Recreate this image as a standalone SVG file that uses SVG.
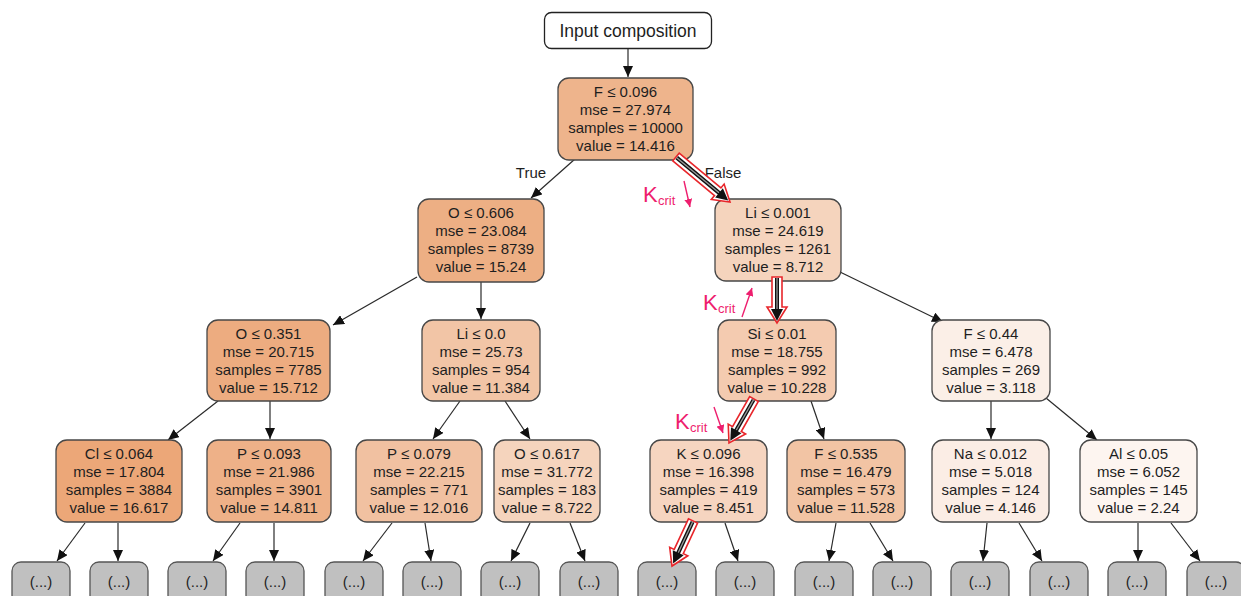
<svg xmlns="http://www.w3.org/2000/svg" width="1241" height="596" viewBox="0 0 1241 596">
<defs>
<style>
.n{stroke:#474747;stroke-width:1.3}
.t{font-family:"Liberation Sans",Arial,sans-serif;font-size:15px;fill:#1e1e1e;text-anchor:middle}
.leaf{fill:#c0c0c0;stroke:#555;stroke-width:1.3}
.e{stroke:#2a2a2a;stroke-width:1.2;fill:none;marker-end:url(#ah)}
.k{font-family:"Liberation Sans",Arial,sans-serif;fill:#ee1e6e}
.pk{stroke:#ee1e6e;stroke-width:1.4;fill:none;marker-end:url(#ahp)}
.ho{fill:#fff;stroke:#e8262b;stroke-width:1.6;stroke-linejoin:miter}
</style>
<marker id="ah" markerWidth="12" markerHeight="10" refX="11" refY="5" orient="auto" markerUnits="userSpaceOnUse"><path d="M0,0 L11,5 L0,10 z" fill="#111"/></marker>
<marker id="ahp" markerWidth="9" markerHeight="8" refX="8" refY="4" orient="auto" markerUnits="userSpaceOnUse"><path d="M0,0 L8,4 L0,8 z" fill="#ee1e6e"/></marker>
</defs>
<rect width="1241" height="596" fill="#fff"/>

<g id="connectors">
<path class="e" d="M628,49 L628,77"/>
<path class="e" d="M575,159 L531,198"/>
<path class="e" d="M417,277 L333,325"/>
<path class="e" d="M481,282 L481,319"/>
<path class="e" d="M840,272 L943,322"/>
<path class="e" d="M218,401 L168,440"/>
<path class="e" d="M270,401 L270,439"/>
<path class="e" d="M460,401 L433,439"/>
<path class="e" d="M505,401 L530,439"/>
<path class="e" d="M811,401 L824,439"/>
<path class="e" d="M991,401 L991,439"/>
<path class="e" d="M1046,398 L1097,440"/>
<path class="e" d="M85,523 L57,561"/>
<path class="e" d="M118,523 L118,561"/>
<path class="e" d="M240,523 L213,561"/>
<path class="e" d="M274,523 L274,561"/>
<path class="e" d="M392,523 L363,561"/>
<path class="e" d="M425,523 L431,561"/>
<path class="e" d="M530,523 L511,561"/>
<path class="e" d="M570,523 L585,561"/>
<path class="e" d="M725,523 L738,561"/>
<path class="e" d="M836,523 L829,561"/>
<path class="e" d="M870,523 L893,561"/>
<path class="e" d="M987,523 L983,561"/>
<path class="e" d="M1019,523 L1042,561"/>
<path class="e" d="M1138,523 L1138,561"/>
<path class="e" d="M1171,523 L1200,561"/>
</g>

<g id="input"><rect x="544.5" y="12.5" width="167" height="36" rx="7" fill="#fff" stroke="#222" stroke-width="1.3"/><text x="628" y="37" class="t" style="font-size:17.5px">Input composition</text></g>

<g id="n0"><rect class="n" x="558" y="78" width="135" height="82" rx="11" fill="#eeb48c"/><text class="t" x="625.5" y="97">F ≤ 0.096</text><text class="t" x="625.5" y="115">mse = 27.974</text><text class="t" x="625.5" y="133">samples = 10000</text><text class="t" x="625.5" y="151">value = 14.416</text></g>
<g id="n1"><rect class="n" x="418" y="199" width="126" height="83" rx="11" fill="#edaf84"/><text class="t" x="481" y="218">O ≤ 0.606</text><text class="t" x="481" y="236">mse = 23.084</text><text class="t" x="481" y="254">samples = 8739</text><text class="t" x="481" y="272">value = 15.24</text></g>
<g id="n2"><rect class="n" x="715" y="199" width="126" height="82" rx="11" fill="#f5d4bd"/><text class="t" x="778" y="218">Li ≤ 0.001</text><text class="t" x="778" y="236">mse = 24.619</text><text class="t" x="778" y="254">samples = 1261</text><text class="t" x="778" y="272">value = 8.712</text></g>
<g id="n3"><rect class="n" x="207" y="320" width="123" height="81" rx="11" fill="#edac80"/><text class="t" x="268.5" y="339">O ≤ 0.351</text><text class="t" x="268.5" y="357">mse = 20.715</text><text class="t" x="268.5" y="375">samples = 7785</text><text class="t" x="268.5" y="393">value = 15.712</text></g>
<g id="n4"><rect class="n" x="422" y="320" width="118" height="81" rx="11" fill="#f2c5a6"/><text class="t" x="481" y="339">Li ≤ 0.0</text><text class="t" x="481" y="357">mse = 25.73</text><text class="t" x="481" y="375">samples = 954</text><text class="t" x="481" y="393">value = 11.384</text></g>
<g id="n5"><rect class="n" x="718" y="320" width="118" height="81" rx="11" fill="#f4cbb0"/><text class="t" x="777" y="339">Si ≤ 0.01</text><text class="t" x="777" y="357">mse = 18.755</text><text class="t" x="777" y="375">samples = 992</text><text class="t" x="777" y="393">value = 10.228</text></g>
<g id="n6"><rect class="n" x="932" y="320" width="118" height="81" rx="11" fill="#fbefe7"/><text class="t" x="991" y="339">F ≤ 0.44</text><text class="t" x="991" y="357">mse = 6.478</text><text class="t" x="991" y="375">samples = 269</text><text class="t" x="991" y="393">value = 3.118</text></g>
<g id="n7"><rect class="n" x="56" y="440" width="126" height="82" rx="11" fill="#eca778"/><text class="t" x="119" y="459">Cl ≤ 0.064</text><text class="t" x="119" y="477">mse = 17.804</text><text class="t" x="119" y="495">samples = 3884</text><text class="t" x="119" y="513">value = 16.617</text></g>
<g id="n8"><rect class="n" x="207" y="440" width="124" height="82" rx="11" fill="#eeb188"/><text class="t" x="269" y="459">P ≤ 0.093</text><text class="t" x="269" y="477">mse = 21.986</text><text class="t" x="269" y="495">samples = 3901</text><text class="t" x="269" y="513">value = 14.811</text></g>
<g id="n9"><rect class="n" x="356" y="440" width="126" height="82" rx="11" fill="#f1c1a1"/><text class="t" x="419" y="459">P ≤ 0.079</text><text class="t" x="419" y="477">mse = 22.215</text><text class="t" x="419" y="495">samples = 771</text><text class="t" x="419" y="513">value = 12.016</text></g>
<g id="n10"><rect class="n" x="494" y="440" width="106" height="82" rx="11" fill="#f5d4bd"/><text class="t" x="547" y="459">O ≤ 0.617</text><text class="t" x="547" y="477">mse = 31.772</text><text class="t" x="547" y="495">samples = 183</text><text class="t" x="547" y="513">value = 8.722</text></g>
<g id="n11"><rect class="n" x="650" y="440" width="117" height="82" rx="11" fill="#f6d5c0"/><text class="t" x="708.5" y="459">K ≤ 0.096</text><text class="t" x="708.5" y="477">mse = 16.398</text><text class="t" x="708.5" y="495">samples = 419</text><text class="t" x="708.5" y="513">value = 8.451</text></g>
<g id="n12"><rect class="n" x="787" y="440" width="118" height="82" rx="11" fill="#f2c4a4"/><text class="t" x="846" y="459">F ≤ 0.535</text><text class="t" x="846" y="477">mse = 16.479</text><text class="t" x="846" y="495">samples = 573</text><text class="t" x="846" y="513">value = 11.528</text></g>
<g id="n13"><rect class="n" x="932" y="440" width="117" height="82" rx="11" fill="#fbede5"/><text class="t" x="990.5" y="459">Na ≤ 0.012</text><text class="t" x="990.5" y="477">mse = 5.018</text><text class="t" x="990.5" y="495">samples = 124</text><text class="t" x="990.5" y="513">value = 4.146</text></g>
<g id="n14"><rect class="n" x="1080" y="440" width="117" height="82" rx="11" fill="#fdf5f0"/><text class="t" x="1138.5" y="459">Al ≤ 0.05</text><text class="t" x="1138.5" y="477">mse = 6.052</text><text class="t" x="1138.5" y="495">samples = 145</text><text class="t" x="1138.5" y="513">value = 2.24</text></g>

<g id="leaves">
<g id="l1"><rect class="leaf" x="12" y="562" width="58" height="42" rx="9"/><text class="t" x="41" y="587">(...)</text></g>
<g id="l2"><rect class="leaf" x="90" y="562" width="58" height="42" rx="9"/><text class="t" x="119" y="587">(...)</text></g>
<g id="l3"><rect class="leaf" x="168" y="562" width="58" height="42" rx="9"/><text class="t" x="197" y="587">(...)</text></g>
<g id="l4"><rect class="leaf" x="246" y="562" width="58" height="42" rx="9"/><text class="t" x="275" y="587">(...)</text></g>
<g id="l5"><rect class="leaf" x="325" y="562" width="58" height="42" rx="9"/><text class="t" x="354" y="587">(...)</text></g>
<g id="l6"><rect class="leaf" x="403" y="562" width="58" height="42" rx="9"/><text class="t" x="432" y="587">(...)</text></g>
<g id="l7"><rect class="leaf" x="481" y="562" width="58" height="42" rx="9"/><text class="t" x="510" y="587">(...)</text></g>
<g id="l8"><rect class="leaf" x="560" y="562" width="58" height="42" rx="9"/><text class="t" x="589" y="587">(...)</text></g>
<g id="l9"><rect class="leaf" x="638" y="562" width="58" height="42" rx="9"/><text class="t" x="667" y="587">(...)</text></g>
<g id="l10"><rect class="leaf" x="716" y="562" width="58" height="42" rx="9"/><text class="t" x="745" y="587">(...)</text></g>
<g id="l11"><rect class="leaf" x="795" y="562" width="58" height="42" rx="9"/><text class="t" x="824" y="587">(...)</text></g>
<g id="l12"><rect class="leaf" x="873" y="562" width="58" height="42" rx="9"/><text class="t" x="902" y="587">(...)</text></g>
<g id="l13"><rect class="leaf" x="951" y="562" width="58" height="42" rx="9"/><text class="t" x="980" y="587">(...)</text></g>
<g id="l14"><rect class="leaf" x="1030" y="562" width="58" height="42" rx="9"/><text class="t" x="1059" y="587">(...)</text></g>
<g id="l15"><rect class="leaf" x="1108" y="562" width="58" height="42" rx="9"/><text class="t" x="1137" y="587">(...)</text></g>
<g id="l16"><rect class="leaf" x="1187" y="562" width="58" height="42" rx="9"/><text class="t" x="1216" y="587">(...)</text></g>
</g>

<g id="edge-labels">
<text class="t" x="531" y="178">True</text>
<text class="t" x="723" y="178">False</text>
</g>

<g id="critical-path">
<g transform="translate(676,157) rotate(39.8)"><polygon class="ho" points="0,-5 54.3,-5 54.3,-10 70.3,0 54.3,10 54.3,5 0,5"/><line x1="1" y1="0" x2="58" y2="0" stroke="#111" stroke-width="4"/><line x1="1" y1="0" x2="56" y2="0" stroke="#999" stroke-width="1.3"/><polygon points="56,-6 68,0 56,6" fill="#111"/></g>
<g transform="translate(777,277) rotate(90)"><polygon class="ho" points="0,-5 30,-5 30,-10 46,0 30,10 30,5 0,5"/><line x1="1" y1="0" x2="34" y2="0" stroke="#111" stroke-width="4"/><line x1="1" y1="0" x2="32" y2="0" stroke="#999" stroke-width="1.3"/><polygon points="32,-6 44,0 32,6" fill="#111"/></g>
<g transform="translate(754,399) rotate(119.6)"><polygon class="ho" points="0,-5 34.6,-5 34.6,-10 50.6,0 34.6,10 34.6,5 0,5"/><line x1="1" y1="0" x2="38" y2="0" stroke="#111" stroke-width="4"/><line x1="1" y1="0" x2="36" y2="0" stroke="#999" stroke-width="1.3"/><polygon points="36,-6 48,0 36,6" fill="#111"/></g>
<g transform="translate(693,521) rotate(115)"><polygon class="ho" points="0,-5 33.7,-5 33.7,-10 49.7,0 33.7,10 33.7,5 0,5"/><line x1="1" y1="0" x2="37" y2="0" stroke="#111" stroke-width="4"/><line x1="1" y1="0" x2="35" y2="0" stroke="#999" stroke-width="1.3"/><polygon points="35,-6 47,0 35,6" fill="#111"/></g>
</g>

<g id="kcrit">
<text class="k" x="643" y="202" font-size="22">K</text><text class="k" x="658" y="205" font-size="13">crit</text>
<path class="pk" d="M684,181 L690,207"/>
<text class="k" x="703" y="310" font-size="22">K</text><text class="k" x="718" y="313" font-size="13">crit</text>
<path class="pk" d="M742,317 L752,288"/>
<text class="k" x="675" y="429" font-size="22">K</text><text class="k" x="690" y="432" font-size="13">crit</text>
<path class="pk" d="M714,407 L723,433"/>
</g>
</svg>
